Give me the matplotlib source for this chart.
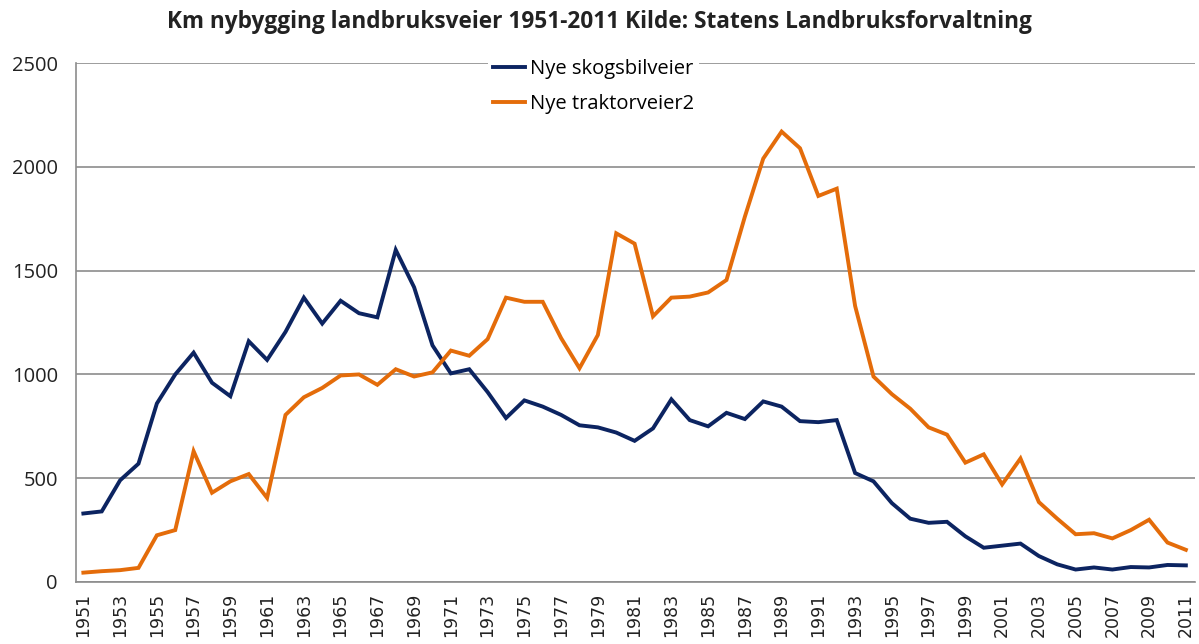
import matplotlib
matplotlib.use("Agg")
import matplotlib.pyplot as plt

years = list(range(1951, 2012))

skogsbilveier = [330, 340, 490, 570, 860, 1000, 1105, 960, 895, 1160,
                 1070, 1205, 1370, 1245, 1355, 1295, 1275, 1600, 1420, 1140,
                 1005, 1025, 915, 790, 875, 845, 805, 755, 745, 720,
                 680, 740, 880, 780, 750, 815, 785, 870, 845, 775,
                 770, 780, 525, 485, 380, 305, 285, 290, 220, 165,
                 175, 185, 125, 85, 60, 70, 60, 72, 70, 82,
                 80]

traktorveier = [45, 52, 57, 68, 225, 250, 630, 430, 485, 520,
                405, 805, 890, 935, 995, 1000, 950, 1025, 990, 1010,
                1115, 1090, 1170, 1370, 1350, 1350, 1175, 1030, 1190, 1680,
                1630, 1280, 1370, 1375, 1395, 1455, 1760, 2040, 2170, 2090,
                1860, 1895, 1330, 990, 905, 835, 745, 710, 575, 615,
                470, 595, 385, 305, 230, 235, 210, 250, 300, 190,
                155]

labels = ["Nye skogsbilveier", "Nye traktorveier2"]
title = "Km nybygging landbruksveier 1951-2011 Kilde: Statens Landbruksforvaltning"

fig = plt.figure(figsize=(11.99, 6.44), dpi=100)
ax = fig.add_axes([0.0634, 0.0963, 0.9333, 0.8057])

ax.plot(years, skogsbilveier, color="#0c2461", lw=2.8, label=labels[0], solid_joinstyle="miter")
ax.plot(years, traktorveier, color="#e46c0a", lw=2.8, label=labels[1], solid_joinstyle="miter")

ax.set_ylim(0, 2500)
ax.set_xlim(1950.6, 2011.5)
ax.set_yticks(range(0, 2501, 500))
ax.set_xticks(years[::2])
ax.set_xticklabels([str(y) for y in years[::2]], rotation=90, fontsize=12.5,
                   family="DejaVu Sans", color="#222222")
for t in ax.get_yticklabels():
    t.set_fontsize(14.5)
    t.set_family("Open Sans")
    t.set_color("#222222")
ax.tick_params(length=0, pad=8)
ax.tick_params(axis="y", pad=13)

ax.grid(axis="y", color="#8c8c8c", lw=1.2)
ax.set_axisbelow(True)
for side in ["top", "right"]:
    ax.spines[side].set_visible(False)
for side in ["left", "bottom"]:
    ax.spines[side].set_color("#8c8c8c")
    ax.spines[side].set_linewidth(1.2)

leg = ax.legend(loc="upper left", bbox_to_anchor=(0.368, 1.017), frameon=True,
                prop={"family": "Open Sans", "size": 14.5}, handlelength=1.6,
                handletextpad=0.25, labelspacing=0.75, borderpad=0.25, borderaxespad=0)
leg.get_frame().set_facecolor("white")
leg.get_frame().set_edgecolor("none")
leg.get_frame().set_alpha(1)

fig.text(0.5, 0.966, title, ha="center", va="center", fontsize=16.3,
         fontweight="bold", family="Open Sans", color="#222222")

fig.savefig("out.png", dpi=100)
